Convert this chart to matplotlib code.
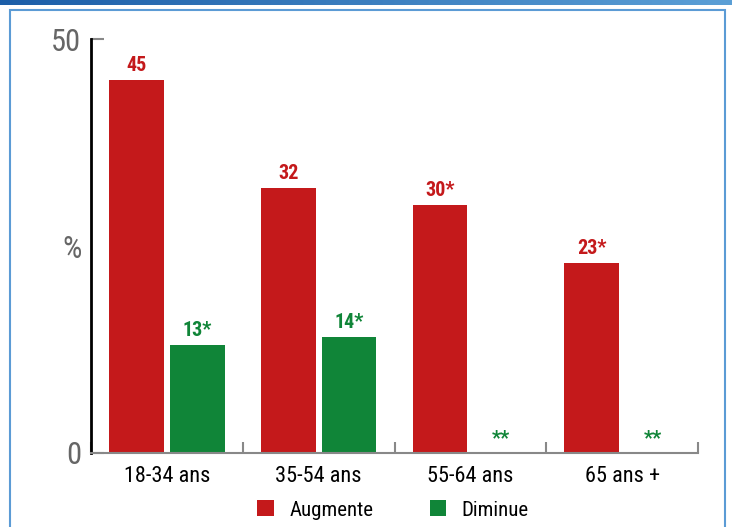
import matplotlib.pyplot as plt
import numpy as np
from matplotlib.patches import Rectangle
from matplotlib.colors import LinearSegmentedColormap

plt.rcParams['font.family'] = ['Roboto Condensed', 'Roboto', 'DejaVu Sans']

# Données
categories = ['18-34 ans', '35-54 ans', '55-64 ans', '65 ans +']
augmente = [45, 32, 30, 23]
diminue = [13, 14, None, None]
lab_aug = ['45', '32', '30*', '23*']
lab_dim = ['13*', '14*', '**', '**']

rouge = '#c4191b'
vert = '#108538'

fig = plt.figure(figsize=(7.32, 5.27), dpi=100)

# bandeau bleu en haut + cadre
bande = fig.add_axes([0, 1 - 5 / 527, 1, 5 / 527])
grad = np.linspace(0, 1, 256).reshape(1, -1)
cmap = LinearSegmentedColormap.from_list('bleu', ['#1c5ea8', '#5b9fd6'])
bande.imshow(grad, aspect='auto', cmap=cmap)
bande.axis('off')
fig.patches.append(Rectangle((10 / 732, -0.01), 715 / 732, 1 - 10 / 527 + 0.01,
                             transform=fig.transFigure, fill=False,
                             edgecolor='#5b9bd5', linewidth=1.5))

ax = fig.add_axes([91 / 732, 74 / 527, 607 / 732, 414 / 527])
x = np.arange(len(categories))
w = 0.36
ax.bar(x - 0.2, augmente, w, color=rouge, label='Augmente')
dim_vals = [v if v is not None else 0 for v in diminue]
ax.bar(x + 0.2, dim_vals, w, color=vert, label='Diminue')

for i in range(len(categories)):
    ax.text(x[i] - 0.2, augmente[i] + 0.6, lab_aug[i], ha='center', va='bottom',
            color=rouge, fontsize=14.5, fontweight='bold')
    ax.text(x[i] + 0.2, dim_vals[i] + 0.6, lab_dim[i], ha='center', va='bottom',
            color=vert, fontsize=14.5, fontweight='bold')

ax.set_xlim(-0.5, 3.5)
ax.set_ylim(0, 50)
ax.spines['top'].set_visible(False)
ax.spines['right'].set_visible(False)
ax.spines['left'].set_color('black')
ax.spines['left'].set_linewidth(2)
ax.spines['bottom'].set_color('#888888')
ax.spines['bottom'].set_linewidth(1.5)

ax.set_xticks(x)
ax.set_xticklabels(categories, fontsize=16)
ax.set_xticks([-0.5, 0.5, 1.5, 2.5, 3.5], minor=True)
ax.tick_params(axis='x', which='major', length=0, pad=9)
ax.tick_params(axis='x', which='minor', direction='in', length=8,
               width=1.5, color='#888888')

ax.set_yticks([0, 25, 50])
ax.set_yticklabels(['0', '%', '50'], fontsize=22, color='#666666')
ax.tick_params(axis='y', direction='in', length=9, width=1.5,
               color='#888888', pad=7)
ax.yaxis.get_major_ticks()[1].tick1line.set_visible(False)

fig.legend(loc='center left', bbox_to_anchor=(257 / 732, 17 / 527), ncol=2,
           frameon=False, fontsize=15, handlelength=0.8, handleheight=0.8,
           columnspacing=2.7, handletextpad=0.75, borderpad=0, borderaxespad=0)

plt.savefig('out.png', dpi=100)
